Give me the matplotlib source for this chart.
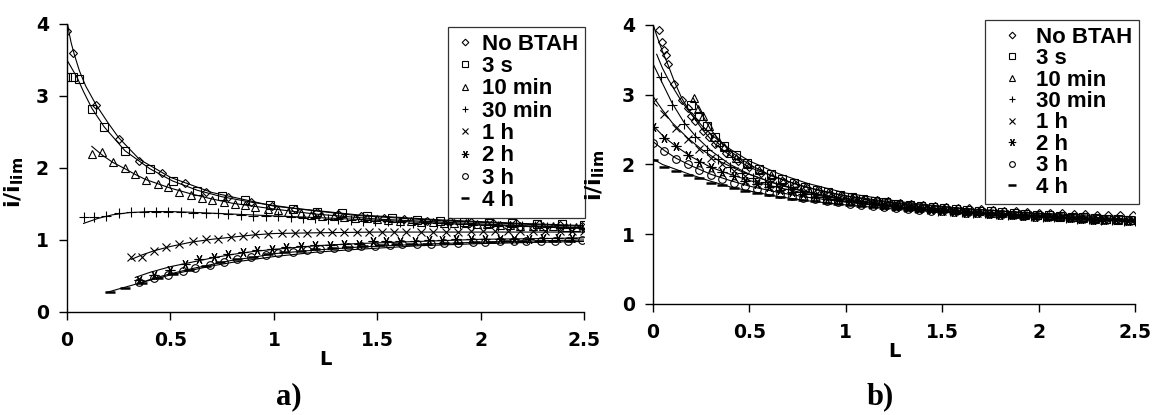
import matplotlib
matplotlib.use('Agg')
import matplotlib.pyplot as plt

# ---------- panel a) : measured points ----------
a_nobtah_L = [0.00, 0.03, 0.14, 0.25, 0.35, 0.46, 0.57, 0.67, 0.78, 0.89, 0.99, 1.10, 1.21,
              1.31, 1.42, 1.53, 1.63, 1.74, 1.85, 1.95, 2.06, 2.17, 2.28, 2.38, 2.49]
a_nobtah_v = [3.90, 3.60, 2.88, 2.40, 2.10, 1.93, 1.79, 1.67, 1.60, 1.53, 1.47, 1.43, 1.39,
              1.36, 1.33, 1.31, 1.29, 1.27, 1.26, 1.25, 1.24, 1.23, 1.22, 1.21, 1.20]

a_3s_L = [0.00, 0.03, 0.06, 0.12, 0.18, 0.28, 0.40, 0.51, 0.63, 0.75, 0.86, 0.98, 1.09,
          1.21, 1.33, 1.45, 1.57, 1.69, 1.80, 1.92, 2.04, 2.15, 2.27, 2.39, 2.50]
a_3s_v = [3.26, 3.26, 3.24, 2.82, 2.57, 2.23, 1.98, 1.82, 1.68, 1.61, 1.55, 1.48, 1.43,
          1.39, 1.37, 1.33, 1.30, 1.28, 1.27, 1.25, 1.24, 1.23, 1.22, 1.22, 1.21]

a_10min_L = [0.12, 0.17, 0.22, 0.28, 0.33, 0.38, 0.44, 0.49, 0.54, 0.60, 0.65, 0.70, 0.76,
             0.81, 0.86, 0.91, 0.97, 1.02, 1.07, 1.13, 1.18, 1.23, 1.29, 1.34, 1.39, 1.45,
             1.50, 1.55, 1.61, 1.66, 1.71, 1.77, 1.82, 1.87, 1.93, 1.98, 2.03, 2.09, 2.14,
             2.19, 2.25, 2.30, 2.35, 2.41, 2.46]
a_10min_v = [2.20, 2.22, 2.09, 2.00, 1.91, 1.83, 1.78, 1.73, 1.67, 1.63, 1.59, 1.56, 1.53,
             1.50, 1.48, 1.46, 1.43, 1.41, 1.39, 1.37, 1.35, 1.34, 1.33, 1.32, 1.31, 1.30,
             1.29, 1.28, 1.27, 1.26, 1.25, 1.25, 1.24, 1.23, 1.23, 1.22, 1.22, 1.21, 1.21,
             1.20, 1.20, 1.19, 1.19, 1.18, 1.18]

a_30min_L = [0.08, 0.13, 0.19, 0.25, 0.31, 0.37, 0.43, 0.49, 0.55, 0.61, 0.67, 0.73, 0.78,
             0.84, 0.90, 0.96, 1.02, 1.08, 1.14, 1.20, 1.26, 1.31, 1.37, 1.43, 1.49, 1.55,
             1.61, 1.67, 1.73, 1.79, 1.84, 1.90, 1.96, 2.02, 2.08, 2.14, 2.20, 2.26, 2.32,
             2.37, 2.43, 2.49]
a_30min_v = [1.32, 1.32, 1.33, 1.37, 1.39, 1.39, 1.39, 1.39, 1.39, 1.38, 1.38, 1.37, 1.36,
             1.35, 1.34, 1.33, 1.33, 1.32, 1.31, 1.30, 1.29, 1.29, 1.28, 1.27, 1.26, 1.26,
             1.25, 1.24, 1.24, 1.23, 1.22, 1.22, 1.21, 1.21, 1.20, 1.20, 1.19, 1.19, 1.18,
             1.18, 1.17, 1.17]

a_1h_L = [0.31, 0.36, 0.42, 0.48, 0.54, 0.61, 0.67, 0.73, 0.79, 0.85, 0.91, 0.97, 1.04,
          1.10, 1.16, 1.22, 1.28, 1.34, 1.40, 1.46, 1.52, 1.58, 1.64, 1.71, 1.77, 1.83,
          1.89, 1.95, 2.01, 2.07, 2.13, 2.19, 2.25, 2.31, 2.38, 2.44, 2.50]
a_1h_v = [0.77, 0.77, 0.85, 0.90, 0.95, 0.98, 1.01, 1.02, 1.04, 1.06, 1.08, 1.09, 1.10,
          1.10, 1.10, 1.11, 1.11, 1.11, 1.11, 1.11, 1.11, 1.11, 1.11, 1.11, 1.11, 1.11,
          1.11, 1.12, 1.12, 1.12, 1.12, 1.12, 1.12, 1.12, 1.12, 1.12, 1.12]

a_2h_L = [0.35, 0.42, 0.50, 0.57, 0.64, 0.71, 0.78, 0.85, 0.92, 0.99, 1.06, 1.13, 1.20,
          1.27, 1.34, 1.41, 1.48, 1.54, 1.61, 1.68, 1.75, 1.81, 1.88, 1.95, 2.02, 2.09,
          2.16, 2.23, 2.30, 2.37, 2.44]
a_2h_v = [0.45, 0.51, 0.58, 0.67, 0.73, 0.77, 0.80, 0.84, 0.86, 0.88, 0.90, 0.92, 0.93,
          0.93, 0.95, 0.95, 0.98, 0.98, 0.99, 0.99, 1.00, 1.00, 1.01, 1.01, 1.01, 1.02,
          1.02, 1.02, 1.03, 1.03, 1.03]

a_3h_L = [0.35, 0.42, 0.49, 0.56, 0.62, 0.69, 0.76, 0.82, 0.89, 0.96, 1.02, 1.09, 1.16,
          1.22, 1.29, 1.36, 1.42, 1.49, 1.56, 1.62, 1.69, 1.76, 1.82, 1.89, 1.96, 2.02,
          2.09, 2.16, 2.22, 2.29, 2.36, 2.42, 2.49]
a_3h_v = [0.41, 0.47, 0.52, 0.57, 0.61, 0.65, 0.69, 0.73, 0.76, 0.79, 0.82, 0.84, 0.86,
          0.87, 0.89, 0.90, 0.91, 0.92, 0.93, 0.94, 0.95, 0.95, 0.96, 0.96, 0.97, 0.97,
          0.98, 0.98, 0.98, 0.99, 0.99, 0.99, 1.00]

a_4h_L = [0.21, 0.28, 0.36, 0.44, 0.51, 0.59, 0.67, 0.74, 0.82, 0.90, 0.97, 1.05, 1.13,
          1.20, 1.28, 1.36, 1.43, 1.51, 1.59, 1.66, 1.74, 1.82, 1.89, 1.97, 2.05, 2.12,
          2.20, 2.28, 2.35, 2.43]
a_4h_v = [0.28, 0.33, 0.40, 0.47, 0.53, 0.59, 0.64, 0.69, 0.73, 0.77, 0.80, 0.83, 0.85,
          0.87, 0.89, 0.90, 0.92, 0.93, 0.94, 0.95, 0.95, 0.96, 0.96, 0.97, 0.97, 0.98,
          0.98, 0.98, 0.99, 0.99]

# ---------- panel a) : trend lines ----------
a_fit_nobtah_L = [0.0, 0.01, 0.02, 0.035, 0.06, 0.09, 0.14, 0.2, 0.25, 0.35, 0.5, 0.7, 1.0, 1.4, 1.8, 2.2, 2.5]
a_fit_nobtah_v = [4.05, 3.88, 3.74, 3.58, 3.35, 3.14, 2.88, 2.62, 2.42, 2.12, 1.87, 1.66, 1.47, 1.34, 1.27, 1.22, 1.19]
a_fit_3s_L = [0.0, 0.02, 0.05, 0.08, 0.12, 0.18, 0.28, 0.40, 0.51, 0.63, 0.75, 0.9, 1.1, 1.4, 1.8, 2.2, 2.5]
a_fit_3s_v = [3.50, 3.40, 3.25, 3.06, 2.83, 2.57, 2.24, 1.99, 1.82, 1.69, 1.60, 1.52, 1.44, 1.35, 1.28, 1.23, 1.20]
a_fit_10min_L = [0.12, 0.17, 0.22, 0.28, 0.33, 0.38, 0.44, 0.5, 0.6, 0.7, 0.8, 1.0, 1.2, 1.5, 1.8, 2.1, 2.5]
a_fit_10min_v = [2.30, 2.18, 2.08, 1.99, 1.91, 1.84, 1.78, 1.72, 1.64, 1.57, 1.51, 1.43, 1.36, 1.29, 1.25, 1.21, 1.17]
a_fit_30min_L = [0.08, 0.15, 0.22, 0.3, 0.4, 0.5, 0.6, 0.8, 1.0, 1.3, 1.6, 1.9, 2.2, 2.5]
a_fit_30min_v = [1.23, 1.30, 1.35, 1.38, 1.395, 1.395, 1.385, 1.36, 1.335, 1.30, 1.26, 1.22, 1.19, 1.16]
a_fit_1h_L = [0.31, 0.36, 0.42, 0.5, 0.6, 0.7, 0.8, 0.9, 1.0, 1.2, 1.5, 1.8, 2.1, 2.5]
a_fit_1h_v = [0.73, 0.79, 0.85, 0.91, 0.97, 1.01, 1.04, 1.07, 1.09, 1.10, 1.11, 1.11, 1.11, 1.11]
a_fit_2h_L = [0.33, 0.4, 0.5, 0.6, 0.7, 0.8, 0.9, 1.0, 1.2, 1.4, 1.7, 2.0, 2.3, 2.5]
a_fit_2h_v = [0.48, 0.55, 0.63, 0.69, 0.75, 0.80, 0.84, 0.87, 0.92, 0.95, 0.98, 1.01, 1.02, 1.03]
a_fit_3h_L = [0.35, 0.42, 0.5, 0.6, 0.7, 0.8, 0.9, 1.0, 1.2, 1.4, 1.7, 2.0, 2.3, 2.5]
a_fit_3h_v = [0.40, 0.47, 0.53, 0.60, 0.66, 0.72, 0.76, 0.81, 0.86, 0.90, 0.94, 0.97, 0.99, 1.00]
a_fit_4h_L = [0.19, 0.25, 0.3, 0.36, 0.44, 0.52, 0.6, 0.7, 0.8, 0.9, 1.0, 1.2, 1.4, 1.7, 2.0, 2.3, 2.5]
a_fit_4h_v = [0.27, 0.32, 0.36, 0.41, 0.47, 0.53, 0.58, 0.64, 0.69, 0.73, 0.77, 0.83, 0.87, 0.92, 0.95, 0.97, 0.98]

# ---------- panel b) : measured points ----------
b_grid_L = [0.00, 0.06, 0.12, 0.18, 0.24, 0.30, 0.36, 0.42, 0.48, 0.54, 0.60, 0.66, 0.72, 0.78,
            0.84, 0.90, 0.96, 1.02, 1.08, 1.14, 1.20, 1.26, 1.32, 1.38, 1.44, 1.50, 1.56, 1.62,
            1.68, 1.74, 1.80, 1.86, 1.92, 1.98, 2.04, 2.10, 2.16, 2.22, 2.28, 2.34, 2.40, 2.46]

b_nobtah_L = [0.03, 0.05, 0.06, 0.07, 0.08, 0.11, 0.15, 0.18, 0.20, 0.22, 0.26, 0.29, 0.32,
              0.38, 0.44, 0.50, 0.56, 0.62, 0.68, 0.74, 0.80, 0.86, 0.92, 0.98, 1.04, 1.10,
              1.16, 1.22, 1.28, 1.34, 1.40, 1.46, 1.52, 1.58, 1.64, 1.70, 1.76, 1.82, 1.88,
              1.94, 2.00, 2.06, 2.12, 2.18, 2.24, 2.30, 2.36, 2.42, 2.49]
b_nobtah_v = [3.93, 3.76, 3.64, 3.57, 3.44, 3.16, 2.92, 2.81, 2.70, 2.62, 2.48, 2.40, 2.29,
              2.16, 2.05, 1.96, 1.88, 1.81, 1.75, 1.70, 1.66, 1.62, 1.58, 1.55, 1.53, 1.51,
              1.49, 1.47, 1.45, 1.44, 1.42, 1.40, 1.39, 1.38, 1.37, 1.36, 1.35, 1.34, 1.33,
              1.32, 1.31, 1.30, 1.30, 1.29, 1.29, 1.28, 1.28, 1.27, 1.27]

b_3s_L = [0.20, 0.24, 0.28, 0.32, 0.37, 0.43, 0.49, 0.55, 0.61, 0.67, 0.73, 0.79, 0.85, 0.91,
          0.97, 1.03, 1.09, 1.15, 1.21, 1.27, 1.33, 1.39, 1.45, 1.51, 1.57, 1.63, 1.69, 1.75,
          1.81, 1.87, 1.93, 1.99, 2.05, 2.11, 2.17, 2.23, 2.29, 2.35, 2.41, 2.47]
b_3s_v = [2.85, 2.70, 2.55, 2.40, 2.27, 2.13, 2.02, 1.93, 1.86, 1.79, 1.73, 1.68, 1.64, 1.60,
          1.56, 1.53, 1.51, 1.48, 1.46, 1.44, 1.42, 1.41, 1.39, 1.38, 1.36, 1.35, 1.34, 1.33,
          1.32, 1.30, 1.29, 1.28, 1.27, 1.26, 1.25, 1.24, 1.23, 1.22, 1.22, 1.21]

b_10min_L = [0.215, 0.235, 0.26, 0.29, 0.317, 0.345, 0.37, 0.40, 0.43, 0.49, 0.55, 0.61, 0.67,
             0.73, 0.79, 0.85, 0.91, 0.97, 1.03, 1.09, 1.15, 1.21, 1.27, 1.33, 1.39, 1.45,
             1.51, 1.57, 1.63, 1.69, 1.75, 1.81, 1.87, 1.93, 1.99, 2.05, 2.11, 2.17, 2.23,
             2.29, 2.35, 2.41, 2.47]
b_10min_v = [2.95, 2.80, 2.69, 2.55, 2.40, 2.32, 2.25, 2.17, 2.10, 2.00, 1.92, 1.85, 1.78,
             1.73, 1.68, 1.64, 1.60, 1.56, 1.53, 1.50, 1.48, 1.46, 1.44, 1.42, 1.40, 1.38,
             1.37, 1.35, 1.34, 1.33, 1.31, 1.30, 1.29, 1.28, 1.27, 1.26, 1.25, 1.24, 1.23,
             1.22, 1.22, 1.21, 1.20]

b_30min_L = [0.04, 0.10, 0.16, 0.22, 0.28, 0.34, 0.40, 0.46, 0.52, 0.58, 0.64, 0.70, 0.76,
             0.82, 0.88, 0.94, 1.00, 1.06, 1.12, 1.18, 1.24, 1.30, 1.36, 1.42, 1.48, 1.54,
             1.60, 1.66, 1.72, 1.78, 1.84, 1.90, 1.96, 2.02, 2.08, 2.14, 2.20, 2.26, 2.32,
             2.38, 2.44, 2.50]
b_30min_v = [3.25, 2.85, 2.58, 2.39, 2.21, 2.08, 1.97, 1.88, 1.81, 1.75, 1.69, 1.65, 1.61,
             1.57, 1.54, 1.51, 1.48, 1.46, 1.44, 1.42, 1.40, 1.39, 1.37, 1.36, 1.34, 1.33,
             1.32, 1.31, 1.30, 1.29, 1.28, 1.27, 1.26, 1.25, 1.24, 1.23, 1.22, 1.22, 1.21,
             1.20, 1.19, 1.19]

b_1h_v = [2.90, 2.72, 2.52, 2.36, 2.22, 2.10, 2.00, 1.91, 1.84, 1.77, 1.72, 1.67, 1.63, 1.59,
          1.56, 1.53, 1.50, 1.48, 1.46, 1.44, 1.42, 1.40, 1.39, 1.37, 1.36, 1.34, 1.33, 1.32,
          1.31, 1.30, 1.29, 1.28, 1.27, 1.26, 1.25, 1.24, 1.23, 1.22, 1.22, 1.21, 1.20, 1.19]
b_2h_v = [2.54, 2.38, 2.26, 2.14, 2.04, 1.96, 1.89, 1.83, 1.77, 1.72, 1.68, 1.64, 1.60, 1.57,
          1.54, 1.51, 1.49, 1.47, 1.45, 1.43, 1.41, 1.39, 1.38, 1.36, 1.35, 1.34, 1.32, 1.31,
          1.30, 1.29, 1.28, 1.27, 1.26, 1.25, 1.25, 1.24, 1.23, 1.22, 1.21, 1.21, 1.20, 1.19]
b_3h_v = [2.31, 2.19, 2.08, 2.00, 1.92, 1.85, 1.79, 1.74, 1.69, 1.65, 1.61, 1.58, 1.55, 1.52,
          1.50, 1.48, 1.46, 1.44, 1.42, 1.41, 1.39, 1.38, 1.36, 1.35, 1.34, 1.33, 1.32, 1.31,
          1.30, 1.29, 1.28, 1.27, 1.26, 1.25, 1.24, 1.24, 1.23, 1.22, 1.21, 1.21, 1.20, 1.19]
b_4h_v = [2.07, 1.97, 1.90, 1.85, 1.80, 1.74, 1.70, 1.66, 1.62, 1.59, 1.56, 1.53, 1.51, 1.49,
          1.47, 1.45, 1.43, 1.42, 1.40, 1.39, 1.37, 1.36, 1.35, 1.34, 1.33, 1.32, 1.31, 1.30,
          1.29, 1.28, 1.27, 1.26, 1.25, 1.25, 1.24, 1.23, 1.22, 1.22, 1.21, 1.20, 1.20, 1.19]

# ---------- panel b) : trend lines ----------
b_fit_nobtah_L = [0.0, 0.02, 0.05, 0.08, 0.11, 0.15, 0.2, 0.26, 0.32, 0.4, 0.5, 0.65, 0.8, 1.0, 1.3, 1.6, 2.0, 2.5]
b_fit_nobtah_v = [4.02, 3.85, 3.62, 3.42, 3.20, 2.95, 2.72, 2.49, 2.30, 2.13, 1.96, 1.80, 1.67, 1.55, 1.44, 1.37, 1.30, 1.25]
b_fit_3s_L = [0.02, 0.05, 0.08, 0.11, 0.15, 0.2, 0.26, 0.32, 0.4, 0.5, 0.65, 0.8, 1.0, 1.3, 1.6, 2.0, 2.5]
b_fit_3s_v = [3.58, 3.38, 3.22, 3.08, 2.90, 2.72, 2.54, 2.39, 2.22, 2.05, 1.87, 1.73, 1.59, 1.46, 1.37, 1.29, 1.21]
b_fit_10min_L = [0.21, 0.25, 0.3, 0.35, 0.4, 0.5, 0.6, 0.75, 0.9, 1.1, 1.4, 1.7, 2.0, 2.5]
b_fit_10min_v = [2.95, 2.74, 2.50, 2.33, 2.19, 2.00, 1.86, 1.71, 1.60, 1.50, 1.39, 1.32, 1.27, 1.20]
b_fit_30min_L = [0.0, 0.04, 0.1, 0.16, 0.22, 0.3, 0.4, 0.5, 0.65, 0.8, 1.0, 1.3, 1.6, 2.0, 2.5]
b_fit_30min_v = [3.45, 3.22, 2.88, 2.61, 2.41, 2.20, 2.00, 1.86, 1.71, 1.60, 1.49, 1.38, 1.31, 1.25, 1.19]
b_fit_1h_L = [0.0, 0.05, 0.1, 0.18, 0.26, 0.35, 0.45, 0.6, 0.75, 0.9, 1.1, 1.4, 1.7, 2.0, 2.5]
b_fit_1h_v = [2.98, 2.78, 2.60, 2.38, 2.20, 2.04, 1.91, 1.76, 1.64, 1.55, 1.47, 1.38, 1.31, 1.26, 1.19]
b_fit_2h_L = [0.0, 0.06, 0.12, 0.2, 0.3, 0.4, 0.5, 0.65, 0.8, 1.0, 1.3, 1.6, 2.0, 2.5]
b_fit_2h_v = [2.56, 2.39, 2.26, 2.11, 1.96, 1.86, 1.77, 1.67, 1.58, 1.49, 1.39, 1.32, 1.26, 1.19]
b_fit_3h_L = [0.0, 0.06, 0.12, 0.2, 0.3, 0.4, 0.5, 0.65, 0.8, 1.0, 1.3, 1.6, 2.0, 2.5]
b_fit_3h_v = [2.33, 2.20, 2.09, 1.98, 1.86, 1.77, 1.69, 1.60, 1.53, 1.46, 1.37, 1.31, 1.25, 1.19]
b_fit_4h_L = [0.0, 0.05, 0.12, 0.2, 0.3, 0.4, 0.5, 0.65, 0.8, 1.0, 1.3, 1.6, 2.0, 2.5]
b_fit_4h_v = [2.08, 2.00, 1.93, 1.85, 1.76, 1.68, 1.62, 1.54, 1.48, 1.42, 1.35, 1.30, 1.25, 1.19]

labels = ['No BTAH', '3 s', '10 min', '30 min', '1 h', '2 h', '3 h', '4 h']
markers = ['D', 's', '^', '+', 'x', (6, 2, 90), 'o', '_']
msizes = [4.5, 6, 6, 6.5, 6, 7, 5.5, 7]
xticks = [0, 0.5, 1, 1.5, 2, 2.5]
xticklabels = ['0', '0.5', '1', '1.5', '2', '2.5']
yticks = [0, 1, 2, 3, 4]

fig = plt.figure(figsize=(11.53, 4.15), dpi=100)
ax_a = fig.add_axes([0.0581, 0.2482, 0.4488, 0.6940])
ax_b = fig.add_axes([0.5662, 0.2675, 0.4185, 0.6723])

pts_a = [(a_nobtah_L, a_nobtah_v), (a_3s_L, a_3s_v), (a_10min_L, a_10min_v),
         (a_30min_L, a_30min_v), (a_1h_L, a_1h_v), (a_2h_L, a_2h_v),
         (a_3h_L, a_3h_v), (a_4h_L, a_4h_v)]
fits_a = [(a_fit_nobtah_L, a_fit_nobtah_v), (a_fit_3s_L, a_fit_3s_v),
          (a_fit_10min_L, a_fit_10min_v), (a_fit_30min_L, a_fit_30min_v),
          (a_fit_1h_L, a_fit_1h_v), (a_fit_2h_L, a_fit_2h_v),
          (a_fit_3h_L, a_fit_3h_v), (a_fit_4h_L, a_fit_4h_v)]
pts_b = [(b_nobtah_L, b_nobtah_v), (b_3s_L, b_3s_v), (b_10min_L, b_10min_v),
         (b_30min_L, b_30min_v), (b_grid_L, b_1h_v), (b_grid_L, b_2h_v),
         (b_grid_L, b_3h_v), (b_grid_L, b_4h_v)]
fits_b = [(b_fit_nobtah_L, b_fit_nobtah_v), (b_fit_3s_L, b_fit_3s_v),
          (b_fit_10min_L, b_fit_10min_v), (b_fit_30min_L, b_fit_30min_v),
          (b_fit_1h_L, b_fit_1h_v), (b_fit_2h_L, b_fit_2h_v),
          (b_fit_3h_L, b_fit_3h_v), (b_fit_4h_L, b_fit_4h_v)]

legend_font = {'family': 'Liberation Sans', 'weight': 'bold', 'size': 16}

for ax, pts, fits in [(ax_a, pts_a, fits_a), (ax_b, pts_b, fits_b)]:
    for (x, y), (fx, fy), lab, m, ms in zip(pts, fits, labels, markers, msizes):
        ax.plot(x, y, linestyle='none', marker=m, markersize=ms,
                mfc='none', mec='black', mew=0.8 if m != '_' else 1.8,
                label=lab, zorder=3)
        ax.plot(fx, fy, color='black', lw=0.8, zorder=2)
    ax.set_xlim(0, 2.5)
    ax.set_ylim(0, 4)
    ax.set_xticks(xticks)
    ax.set_xticklabels(xticklabels)
    ax.set_yticks(yticks)
    for s in ['top', 'right']:
        ax.spines[s].set_visible(False)
    for s in ['left', 'bottom']:
        ax.spines[s].set_linewidth(1.0)
    ax.tick_params(axis='x', direction='out', length=6, width=1.0, pad=8,
                   labelsize=13.5)
    ax.tick_params(axis='y', direction='out', length=6, width=1.0, pad=7,
                   labelsize=13.5)
    for t in ax.get_xticklabels() + ax.get_yticklabels():
        t.set_fontweight('bold')
    ax.set_xlabel('L', fontsize=14, fontweight='bold', labelpad=0)
    ax.set_ylabel(r'$\mathbf{i/i_{lim}}$', fontsize=16)

ax_a.yaxis.set_label_coords(-0.08, 0.45)
ax_b.yaxis.set_label_coords(-0.095, 0.46)

leg_a = ax_a.legend(loc='upper right', bbox_to_anchor=(0.5074, 0.9349),
                    bbox_transform=fig.transFigure, prop=legend_font,
                    frameon=True, fancybox=False, edgecolor='black',
                    borderpad=0.3, labelspacing=0.06, handlelength=1.0,
                    handletextpad=0.25, markerscale=0.75, borderaxespad=0)
leg_a.get_frame().set_linewidth(0.9)
leg_b = ax_b.legend(loc='upper right', bbox_to_anchor=(0.9879, 0.9518),
                    bbox_transform=fig.transFigure, prop=legend_font,
                    frameon=True, fancybox=False, edgecolor='black',
                    borderpad=0.3, labelspacing=0.02, handlelength=1.8,
                    handletextpad=0.2, markerscale=0.75, borderaxespad=0)
leg_b.get_frame().set_linewidth(0.9)

panel_font = {'family': 'Liberation Serif', 'weight': 'bold', 'size': 22}
fig.text(0.2505, 0.045, 'a)', ha='center', va='center', fontdict=panel_font)
fig.text(0.7633, 0.045, 'b)', ha='center', va='center', fontdict=panel_font)

fig.savefig('out.png', dpi=100)
